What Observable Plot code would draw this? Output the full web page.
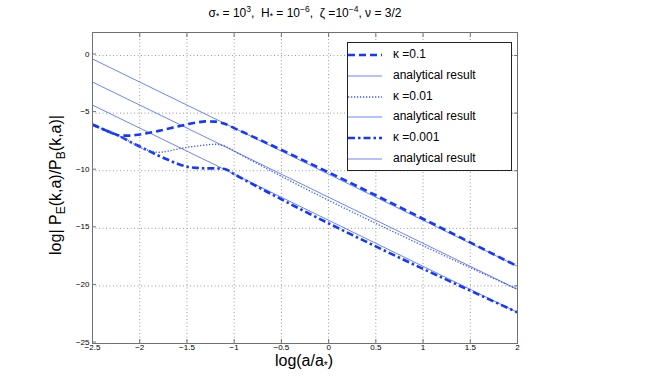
<!DOCTYPE html>
<html><head><meta charset="utf-8">
<script src="https://cdn.jsdelivr.net/npm/d3@7"></script>
<script src="https://cdn.jsdelivr.net/npm/@observablehq/plot@0.6"></script>
<style>
body{margin:0;background:#fff;font-family:"Liberation Sans",Arial,sans-serif;color:#000}
#wrap{position:relative;width:672px;height:382px;overflow:hidden}
#wrap svg{position:absolute;left:0;top:0}
.ov{position:absolute;white-space:pre;line-height:1}
#title{left:305px;top:5px;transform:translateX(-50%);font-size:12px}
#title sub,#title sup{font-size:8.5px}
#title sup{vertical-align:5px}
#title sub{vertical-align:-2px}
#ylab{left:57px;top:185px;transform-origin:0 0;transform:rotate(-90deg) translate(-50%,-50%);font-size:16px}
#ylab sub{font-size:12px;vertical-align:-4px}
#xlab{left:304px;top:353px;transform:translateX(-50%);font-size:16px}
#xlab sub{font-size:10px;vertical-align:-3px}
#legend{position:absolute;left:347px;top:42px;width:165px;height:129px;border:1px solid #222;background:#fff;box-sizing:border-box}
.lrow{position:absolute;left:0;height:20px;width:100%}
.lrow svg{position:absolute;left:5px;top:0}
.lrow span{position:absolute;left:45px;top:3px;font-size:12px;white-space:pre}
</style></head>
<body>
<div id="wrap"></div>
<script>
// ---- data ----
const xTicks = [-2.5, -2, -1.5, -1, -0.5, 0, 0.5, 1, 1.5, 2];
const yTicks = [-25, -20, -15, -10, -5, 0];

// numerical curves (shared x sampling)
const curveX      = [-2.5, -2.4, -2.3, -2.2, -2.1, -2.0, -1.9, -1.8, -1.7, -1.6, -1.5, -1.4, -1.3, -1.2, -1.1, -1.0, 2.0];
const kappa01Y    = [-6.0, -6.35, -6.7, -6.95, -6.95, -6.85, -6.7, -6.54, -6.35, -6.16, -5.98, -5.82, -5.72, -5.74, -5.93, -6.3, -18.3];
const kappa001Y   = [-6.0, -6.35, -6.7, -7.05, -7.5, -7.95, -8.25, -8.4, -8.3, -8.12, -7.97, -7.86, -7.76, -7.7, -7.85, -8.3, -20.3];
const kappa0001Y  = [-6.0, -6.35, -6.7, -7.05, -7.5, -7.9, -8.3, -8.7, -9.05, -9.4, -9.65, -9.75, -9.8, -9.8, -9.85, -10.3, -22.3];

// analytical results (straight lines)
const lineX   = [-2.5, 2.0];
const line1Y  = [-0.3, -18.3];
const line2Y  = [-2.3, -20.3];
const line3Y  = [-4.3, -22.3];

const legendLabels = ["κ =0.1", "analytical result", "κ =0.01", "analytical result", "κ =0.001", "analytical result"];

// ---- build ----
const curveBlue = "#1438ff";
const lineBlue = "#5b74ff";
const toPts = (xs, ys) => xs.map((x, i) => ({x, y: ys[i]}));

const styles = {
  k1:  {stroke: curveBlue, strokeWidth: 2.6, strokeDasharray: "7,4"},
  k2:  {stroke: "#3f5cff", strokeWidth: 1.3, strokeDasharray: "1.3,1.7"},
  k3:  {stroke: curveBlue, strokeWidth: 2.6, strokeDasharray: "7,3,2.5,3"},
  an:  {stroke: lineBlue, strokeWidth: 0.9}
};

const chart = Plot.plot({
  width: 672, height: 382,
  marginLeft: 92, marginRight: 155, marginTop: 32, marginBottom: 39,
  x: {domain: [-2.5, 2]},
  y: {domain: [-25, 2]},
  style: {fontFamily: '"Liberation Sans", Arial, sans-serif', fontSize: "8px", color: "#000", background: "transparent"},
  marks: [
    Plot.gridX(xTicks, {stroke: "#9a9a9a", strokeOpacity: 1, strokeDasharray: "1,2.5"}),
    Plot.gridY(yTicks, {stroke: "#9a9a9a", strokeOpacity: 1, strokeDasharray: "1,2.5"}),
    Plot.line(toPts(lineX, line1Y), {x: "x", y: "y", ...styles.an}),
    Plot.line(toPts(lineX, line2Y), {x: "x", y: "y", ...styles.an}),
    Plot.line(toPts(lineX, line3Y), {x: "x", y: "y", ...styles.an}),
    Plot.line(toPts(curveX, kappa0001Y), {x: "x", y: "y", curve: "monotone-x", strokeLinecap: "butt", ...styles.k3}),
    Plot.line(toPts(curveX, kappa001Y), {x: "x", y: "y", curve: "monotone-x", strokeLinecap: "butt", ...styles.k2}),
    Plot.line(toPts(curveX, kappa01Y), {x: "x", y: "y", curve: "monotone-x", strokeLinecap: "butt", ...styles.k1}),
    Plot.frame({stroke: "#707070", strokeWidth: 1}),
    Plot.axisX(xTicks, {anchor: "bottom", tickSize: -4, tickPadding: 5.2, label: null, stroke: "#707070", tickFormat: d => String(d).replace("-", "\u2212")}),
    Plot.axisX(xTicks, {anchor: "top", tickSize: -4, label: null, stroke: "#707070", tickFormat: () => ""}),
    Plot.axisY(yTicks, {anchor: "left", tickSize: -4, tickPadding: 7, dy: -1.5, label: null, stroke: "#707070", tickFormat: d => String(d).replace("-", "\u2212")}),
    Plot.axisY(yTicks, {anchor: "right", tickSize: -4, label: null, stroke: "#707070", tickFormat: () => ""})
  ]
});

const wrap = document.getElementById("wrap");
wrap.appendChild(chart);

function addDiv(id, html, cls) {
  const d = document.createElement("div");
  d.id = id; d.className = cls || "ov"; d.innerHTML = html;
  wrap.appendChild(d);
  return d;
}
addDiv("title", "σ<sub>*</sub> = 10<sup>3</sup>,  H<sub>*</sub> = 10<sup>\u22126</sup>,  ζ =10<sup>\u22124</sup>, ν = 3/2");
addDiv("ylab", "log| P<sub>E</sub>(k,a)/P<sub>B</sub>(k,a)|");
addDiv("xlab", "log(a/a<sub>*</sub>)");

// legend
const leg = addDiv("legend", "", "");
const legStyles = [styles.k1, styles.an, styles.k2, styles.an, styles.k3, styles.an];
legendLabels.forEach((lab, i) => {
  const row = document.createElement("div");
  row.className = "lrow";
  row.style.top = (2 + i * 20.8) + "px";
  const s = legStyles[i];
  row.innerHTML = `<svg width="36" height="20"><line x1="0" x2="34" y1="10" y2="10" stroke="${s.stroke}" stroke-width="${s.strokeWidth}" ${s.strokeDasharray ? `stroke-dasharray="${s.strokeDasharray}"` : ""}/></svg><span>${lab}</span>`;
  leg.appendChild(row);
});
</script>
</body></html>
